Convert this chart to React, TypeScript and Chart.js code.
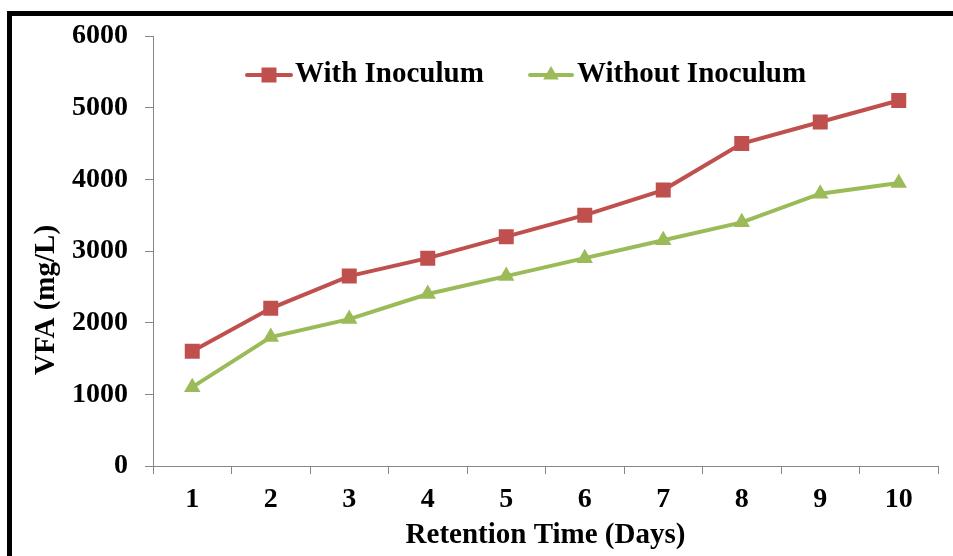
import { useEffect, useRef } from "react";
import { Chart, registerables } from "chart.js";

Chart.register(...registerables);

const days = ["1", "2", "3", "4", "5", "6", "7", "8", "9", "10"];
const withInoculum = [1600, 2200, 2650, 2900, 3200, 3500, 3850, 4500, 4800, 5100];
const withoutInoculum = [1100, 1800, 2050, 2400, 2650, 2900, 3150, 3400, 3800, 3950];
const seriesLabels = ["With Inoculum", "Without Inoculum"];
const seriesColors = ["#C0504D", "#9BBB59"];
const seriesMarkers = ["rect", "triangle"];
const xTitle = "Retention Time (Days)";
const yTitle = "VFA (mg/L)";
const yMin = 0;
const yMax = 6000;
const yStep = 1000;

const FONT = '"Liberation Serif", "Times New Roman", serif';
const AXIS_GRAY = "#868686";

const overlayPlugin = {
  id: "overlay",
  afterDraw(chart: any) {
    const ctx = chart.ctx as CanvasRenderingContext2D;
    // y-axis title
    ctx.save();
    ctx.translate(47, 300);
    ctx.rotate(-Math.PI / 2);
    ctx.font = `bold 29px ${FONT}`;
    ctx.textAlign = "center";
    ctx.textBaseline = "middle";
    ctx.fillStyle = "#000";
    ctx.fillText(yTitle, 0, 0);
    ctx.restore();

    // legend (Excel style: line + marker)
    const entries = [
      { x0: 247, x1: 291, tx: 295 },
      { x0: 530, x1: 572, tx: 577 },
    ];
    const cy = 75;
    chart.data.datasets.forEach((ds: any, i: number) => {
      const e = entries[i];
      ctx.save();
      ctx.strokeStyle = ds.borderColor;
      ctx.lineWidth = 4;
      ctx.lineCap = "round";
      ctx.beginPath();
      ctx.moveTo(e.x0, cy);
      ctx.lineTo(e.x1, cy);
      ctx.stroke();
      const cx = (e.x0 + e.x1) / 2;
      ctx.fillStyle = ds.backgroundColor;
      ctx.beginPath();
      if (ds.pointStyle === "rect") {
        ctx.rect(cx - 7.5, cy - 7.5, 15, 15);
      } else {
        const r = 9;
        ctx.moveTo(cx, cy - r);
        ctx.lineTo(cx + r * Math.sin((2 * Math.PI) / 3), cy - r * Math.cos((2 * Math.PI) / 3));
        ctx.lineTo(cx - r * Math.sin((2 * Math.PI) / 3), cy - r * Math.cos((2 * Math.PI) / 3));
        ctx.closePath();
      }
      ctx.fill();
      ctx.font = `bold 29px ${FONT}`;
      ctx.textAlign = "left";
      ctx.textBaseline = "middle";
      ctx.fillStyle = "#000";
      ctx.fillText(ds.label, e.tx, cy);
      ctx.restore();
    });
  },
};

export default function App() {
  const canvasRef = useRef<HTMLCanvasElement | null>(null);

  useEffect(() => {
    const canvas = canvasRef.current;
    if (!canvas) return;
    const series = [withInoculum, withoutInoculum];
    const chart = new Chart(canvas, {
      type: "line",
      data: {
        labels: days,
        datasets: series.map((values, i) => ({
          label: seriesLabels[i],
          data: values,
          borderColor: seriesColors[i],
          backgroundColor: seriesColors[i],
          borderWidth: 4,
          pointStyle: seriesMarkers[i] as any,
          pointRadius: i === 0 ? 10.6 : 9.5,
          pointBorderWidth: 0,
          pointBackgroundColor: seriesColors[i],
          tension: 0,
          fill: false,
        })),
      },
      options: {
        responsive: false,
        animation: false,
        layout: { padding: { left: 0, right: 15, top: 36, bottom: 0 } },
        plugins: {
          legend: { display: false },
          tooltip: { enabled: false },
          title: { display: false },
        },
        scales: {
          x: {
            type: "category",
            offset: true,
            grid: {
              display: true,
              offset: true,
              drawOnChartArea: false,
              drawTicks: true,
              tickLength: 8,
              color: AXIS_GRAY,
              lineWidth: 1,
            },
            border: { display: true, color: AXIS_GRAY, width: 1 },
            ticks: {
              color: "#000",
              padding: 9,
              maxRotation: 0,
              font: { family: FONT, size: 28, weight: "bold" },
            },
            title: {
              display: true,
              text: xTitle,
              color: "#000",
              padding: { top: 0, bottom: 3 },
              font: { family: FONT, size: 29, weight: "bold" },
            },
            afterFit(scale: any) {
              scale.height = 90;
            },
          },
          y: {
            min: yMin,
            max: yMax,
            grid: {
              display: true,
              drawOnChartArea: false,
              drawTicks: true,
              tickLength: 8,
              color: AXIS_GRAY,
              lineWidth: 1,
            },
            border: { display: true, color: AXIS_GRAY, width: 1 },
            ticks: {
              stepSize: yStep,
              color: "#000",
              padding: 17,
              font: { family: FONT, size: 28, weight: "bold" },
              callback: (value: any) => String(value),
            },
            afterFit(scale: any) {
              scale.width = 153;
            },
          },
        },
      },
      plugins: [overlayPlugin],
    });
    return () => chart.destroy();
  }, []);

  return (
    <div style={{ position: "fixed", left: 0, top: 0, width: 953, height: 556, background: "#fff", overflow: "hidden" }}>
      <div
        style={{
          position: "absolute",
          left: 7,
          top: 11,
          right: -20,
          bottom: -20,
          borderLeft: "5px solid #000",
          borderTop: "5px solid #000",
        }}
      />
      <canvas
        ref={canvasRef}
        width={953}
        height={556}
        style={{ position: "absolute", left: 0, top: 0, width: 953, height: 556 }}
      />
    </div>
  );
}
